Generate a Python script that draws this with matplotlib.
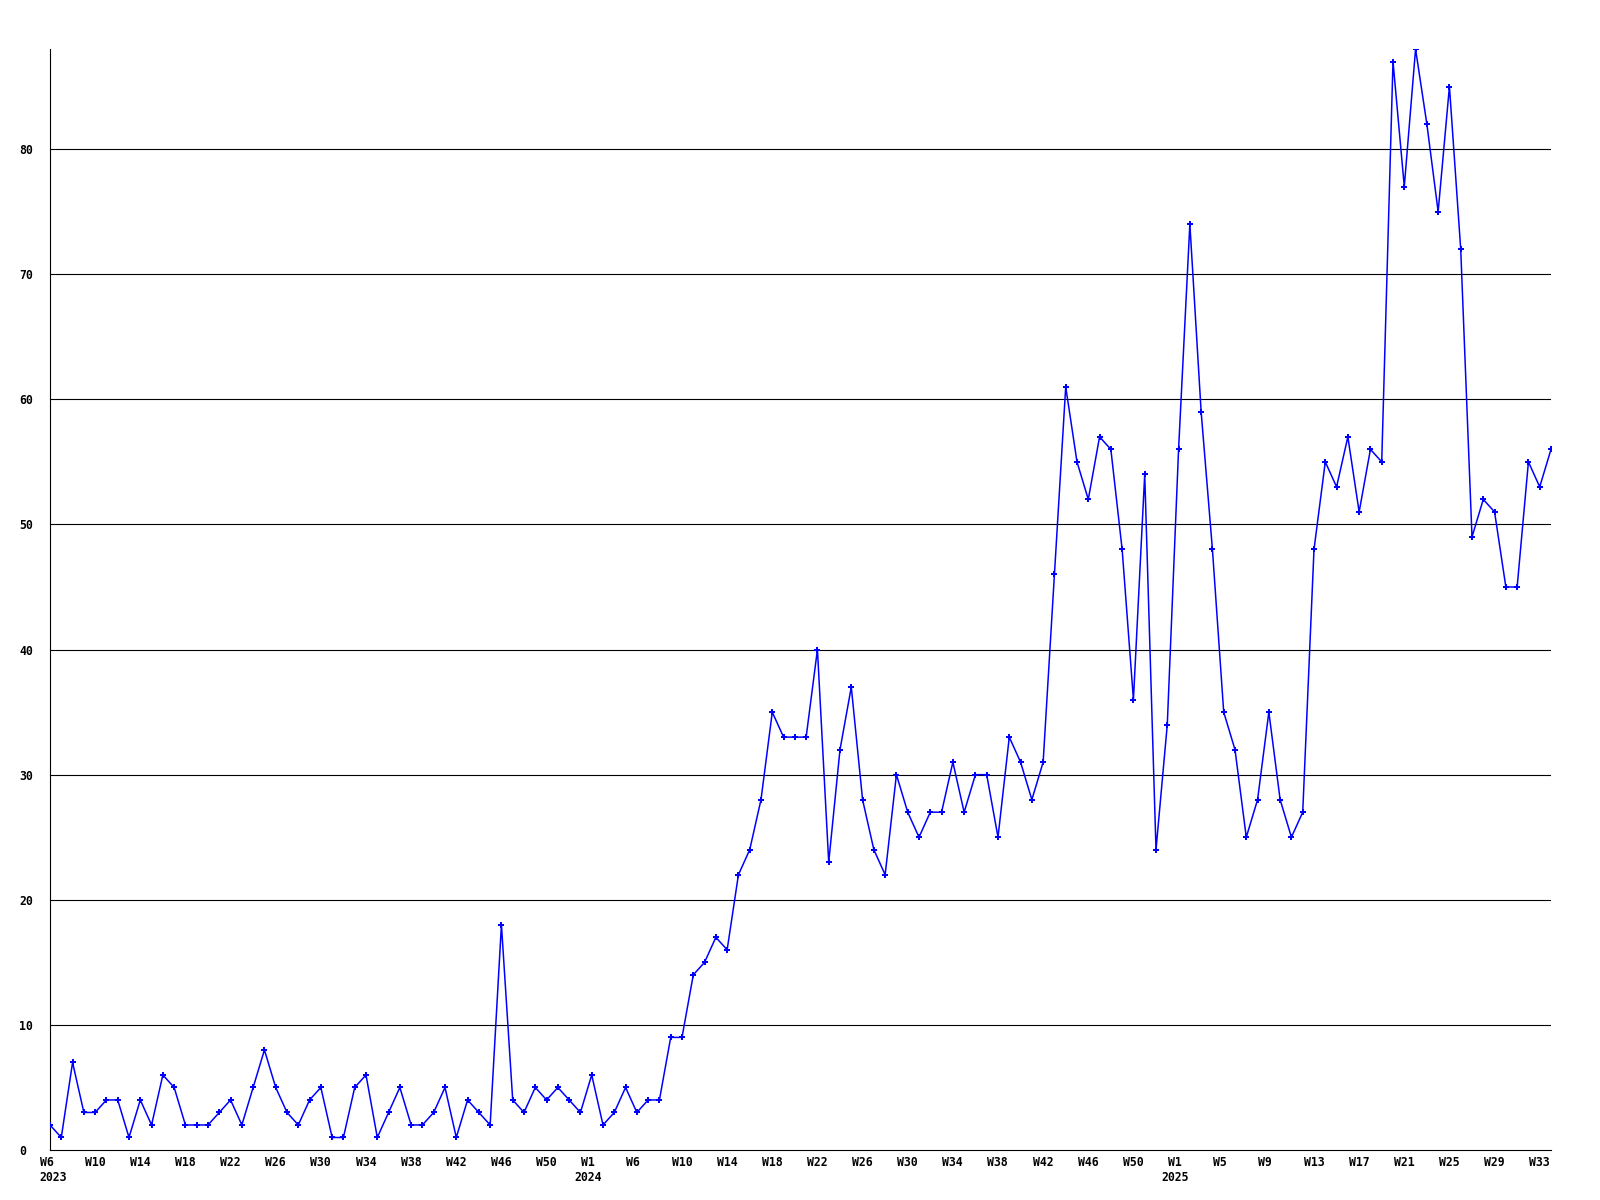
import matplotlib
matplotlib.use('Agg')
import matplotlib.pyplot as plt
import matplotlib.transforms as mtransforms

# weekly counts, 2023 W6 .. 2025 W34
counts_2023 = [2, 1, 7, 3, 3, 4, 4, 1, 4, 2, 6, 5, 2, 2, 2, 3, 4, 2, 5, 8,
               5, 3, 2, 4, 5, 1, 1, 5, 6, 1, 3, 5, 2, 2, 3, 5, 1, 4, 3, 2,
               18, 4, 3, 5, 4, 5, 4, 3]
counts_2024 = [6, 2, 3, 5, 3, 4, 4, 9, 9, 14, 15, 17, 16, 22, 24, 28, 35, 33,
               33, 33, 40, 23, 32, 37, 28, 24, 22, 30, 27, 25, 27, 27, 31, 27,
               30, 30, 25, 33, 31, 28, 31, 46, 61, 55, 52, 57, 56, 48, 36, 54,
               24, 34]
counts_2025 = [56, 74, 59, 48, 35, 32, 25, 28, 35, 28, 25, 27, 48, 55, 53, 57,
               51, 56, 55, 87, 77, 88, 82, 75, 85, 72, 49, 52, 51, 45, 45, 55,
               53, 56]
counts = counts_2023 + counts_2024 + counts_2025

# one label every 4th week
tick_labels = ['W6\n2023', 'W10', 'W14', 'W18', 'W22', 'W26', 'W30', 'W34',
               'W38', 'W42', 'W46', 'W50',
               'W1\n2024', 'W6', 'W10', 'W14', 'W18', 'W22', 'W26', 'W30',
               'W34', 'W38', 'W42', 'W46', 'W50',
               'W1\n2025', 'W5', 'W9', 'W13', 'W17', 'W21', 'W25', 'W29', 'W33']
y_ticks = [0, 10, 20, 30, 40, 50, 60, 70, 80]

fnt = {'family': 'DejaVu Sans Mono', 'weight': 'bold', 'size': 8.3}

fig = plt.figure(figsize=(16, 12), dpi=100)
ax = fig.add_axes([50 / 1600, 50 / 1200, 1501 / 1600, 1101 / 1200])

x = list(range(len(counts)))
for v in y_ticks[1:]:
    ax.axhline(v, color='black', lw=0.8, zorder=1)
ax.plot(x, counts, color='#0000ff', lw=1.1, marker='P', markersize=3.8,
        markeredgewidth=0, zorder=3)

ax.set_xlim(0, len(counts) - 1)
ax.set_ylim(0, 88)
for s in ['top', 'right']:
    ax.spines[s].set_visible(False)
for s in ['left', 'bottom']:
    ax.spines[s].set_linewidth(0.8)
    ax.spines[s].set_color('black')

ax.set_xticks(x[::4])
ax.set_xticklabels(tick_labels, fontdict=fnt, linespacing=1.2)
ax.set_yticks(y_ticks)
ax.set_yticklabels([str(v) for v in y_ticks], fontdict=fnt)
ax.tick_params(axis='both', length=0)
ax.tick_params(axis='x', pad=4.5)
ax.tick_params(axis='y', pad=22)

left_off = mtransforms.ScaledTranslation(-10.5 / 100, 0, fig.dpi_scale_trans)
mid_off = mtransforms.ScaledTranslation(-3.5 / 100, 0, fig.dpi_scale_trans)
for i, lab in enumerate(ax.get_xticklabels()):
    txt = tick_labels[i]
    if '\n' in txt and i > 0:
        # year under W1: centred below the week label
        lab.set_ha('center')
        lab.set_multialignment('center')
        lab.set_transform(lab.get_transform() + mid_off)
    else:
        lab.set_ha('left')
        lab.set_multialignment('left')
        lab.set_transform(lab.get_transform() + left_off)
for lab in ax.get_yticklabels():
    lab.set_ha('left')

fig.savefig('out.png', dpi=100, facecolor='white')
